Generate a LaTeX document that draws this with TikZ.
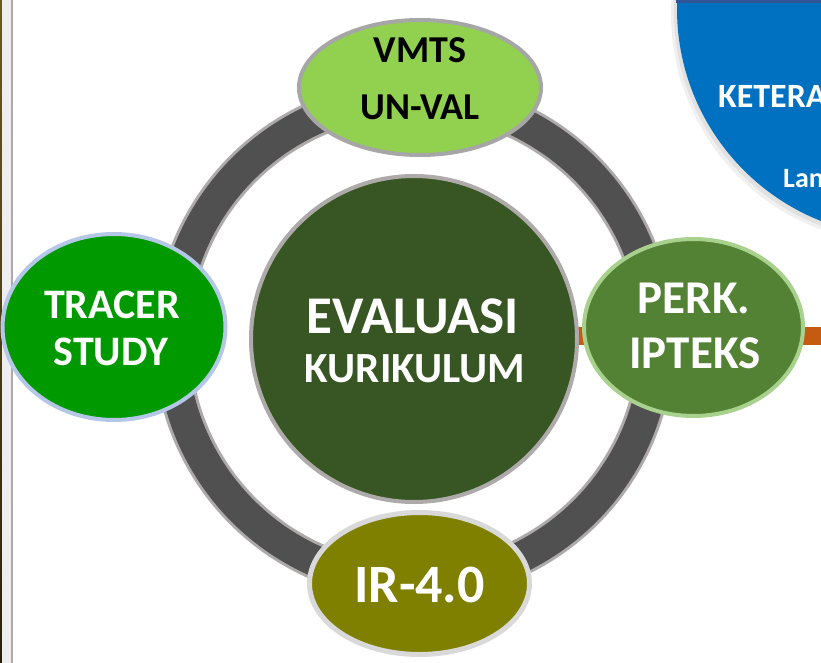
\documentclass[tikz,border=0pt]{standalone}
\usepackage{fontspec}
\setmainfont{Carlito}
\usetikzlibrary{shapes.geometric}
\definecolor{ringdark}{HTML}{505050}
\definecolor{ringedge}{HTML}{AEAAAA}
\definecolor{centerfill}{HTML}{375623}
\definecolor{vmtsfill}{HTML}{92D050}
\definecolor{vmtsedge}{HTML}{A6A6A6}
\definecolor{tracerfill}{HTML}{009900}
\definecolor{traceredge}{HTML}{B4C7E7}
\definecolor{perkfill}{HTML}{548235}
\definecolor{perkedge}{HTML}{A9D18E}
\definecolor{irfill}{HTML}{808000}
\definecolor{iredge}{HTML}{D9D9D9}
\definecolor{barorange}{HTML}{C55A11}
\definecolor{blueshape}{HTML}{0070C0}
\definecolor{bluetop}{HTML}{2F5597}
\definecolor{stripbrown}{HTML}{6B5A1E}
\definecolor{stripdark}{HTML}{2A200A}
\definecolor{stripgray}{HTML}{EEEEEE}
\begin{document}
\begin{tikzpicture}[x=1pt,y=-1pt,
  bubble/.style={ellipse,inner sep=0pt,line width=4pt},
  lbl/.style={anchor=base,inner sep=0pt,font=\bfseries,text=white},
]
\useasboundingbox (0,0) rectangle (821,663);
\fill[white] (0,0) rectangle (821,663);
% left edge strip
\shade[top color=stripbrown,bottom color=stripdark] (0,0) rectangle (2,663);
\fill[stripgray] (2,0) rectangle (11,663);
\fill[ringedge] (11,0) rectangle (13,663);
% blue shape top right with soft shadow
\fill[black,opacity=0.06] (901,14) circle[radius=230];
\fill[black,opacity=0.06] (903,12) circle[radius=229];
\fill[blueshape] (905,9) circle[radius=228];
\fill[bluetop] (676,0) rectangle (821,3.5);
\node[lbl,anchor=base west,font=\fontsize{34}{38}\selectfont\bfseries] (ket) at (718,108) {KETERA};
\node[lbl,anchor=base west,font=\fontsize{28}{32}\selectfont\bfseries] (lan) at (783,188) {Lan};
% orange bar
\fill[barorange] (560,327) rectangle (821,345);
% ring
\coordinate (ringc) at (414,340);
\draw[ringedge,line width=37pt] (ringc) circle[radius=242];
\draw[ringdark,line width=31pt] (ringc) circle[radius=242];
% centre circle
\node[circle,inner sep=0pt,minimum size=326pt,fill=centerfill,draw=ringedge,line width=4pt] (center) at (414,339) {};
\node[lbl,font=\fontsize{53}{58}\selectfont\bfseries] (eval) at (413,333) {EVALUASI};
\node[lbl,font=\fontsize{43}{48}\selectfont\bfseries] (kur) at (415,382) {KURIKULUM};
% outer bubbles
\node[bubble,minimum width=242pt,minimum height=135pt,fill=vmtsfill,draw=vmtsedge] (vmts) at (420,87.5) {};
\node[lbl,text=black,font=\fontsize{38}{42}\selectfont\bfseries] (vmtsA) at (420,63) {VMTS};
\node[lbl,text=black,font=\fontsize{38}{42}\selectfont\bfseries] (vmtsB) at (420,120) {UN-VAL};
\node[bubble,minimum width=223pt,minimum height=186pt,fill=tracerfill,draw=traceredge] (tracer) at (114,327) {};
\node[lbl,font=\fontsize{42}{46}\selectfont\bfseries] (trA) at (112,318) {TRACER};
\node[lbl,font=\fontsize{42}{46}\selectfont\bfseries] (trB) at (111,365) {STUDY};
\node[bubble,minimum width=219pt,minimum height=177pt,fill=perkfill,draw=perkedge] (perk) at (693.5,327.5) {};
\node[lbl,font=\fontsize{47}{52}\selectfont\bfseries] (pkA) at (694,313) {PERK.};
\node[lbl,font=\fontsize{47}{52}\selectfont\bfseries] (pkB) at (695,368) {IPTEKS};
\node[bubble,line width=5pt,minimum width=220pt,minimum height=142pt,fill=irfill,draw=iredge] (ir) at (419.5,583.5) {};
\node[lbl,font=\fontsize{54}{60}\selectfont\bfseries] (irT) at (419.5,602) {IR-4.0};
\end{tikzpicture}
\end{document}
